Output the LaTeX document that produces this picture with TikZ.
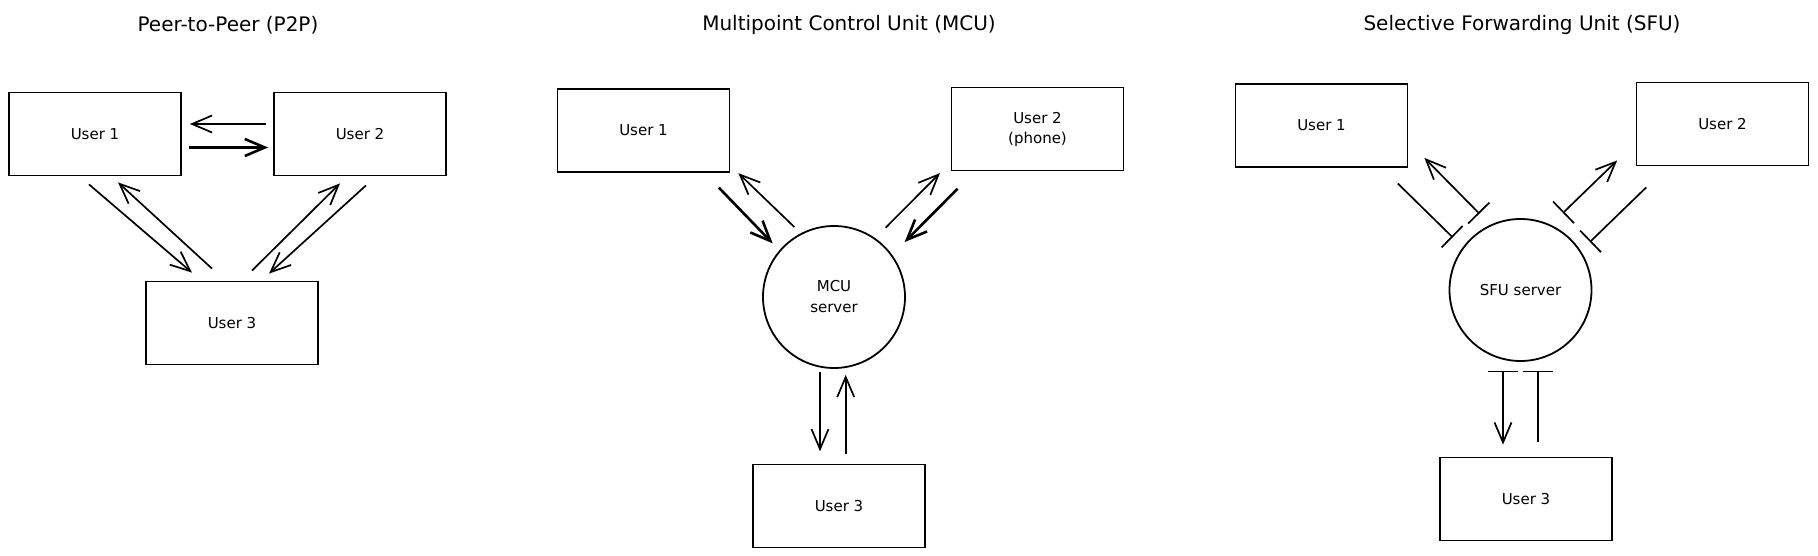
\documentclass[tikz,border=0pt]{standalone}
\usepackage{fontspec}
\setsansfont{DejaVu Sans}
\usetikzlibrary{calc, arrows.meta}

\begin{document}
\begin{tikzpicture}[x=1pt,y=-1pt,
        box/.style={draw,line width=1.8pt,minimum width=172pt,minimum height=83pt,inner sep=0pt,align=center,font=\sffamily\fontsize{15}{20}\selectfont},
        srv/.style={draw,circle,line width=1.8pt,minimum size=142pt,inner sep=0pt,align=center,font=\sffamily\fontsize{15}{21}\selectfont},
        ttl/.style={font=\sffamily\fontsize{20}{24}\selectfont},
        arr/.style={line width=1.7pt,-{Straight Barb[length=20pt,width=17pt]}},
        fwd/.style={line width=1.7pt,{Bar[width=30pt]}-{Straight Barb[length=20pt,width=17pt]}},
        blk/.style={line width=1.7pt,-{Bar[width=30pt]}}]
    \useasboundingbox (0,0) rectangle (1818,556);
    \foreach \n/\x/\t in {t1/228/{Peer-to-Peer (P2P)},t2/849/{Multipoint Control Unit (MCU)},t3/1522/{Selective Forwarding Unit (SFU)}}{
        \node[ttl] (\n) at (\x,25) {\t};
    }
    \node[box] (p1) at (95,134) {User 1};
    \node[box] (p2) at (360,134) {User 2};
    \node[box] (p3) at (232,323) {User 3};
    \draw[arr] ($(p2.west)+(-7,-10)$) -- ($(p1.east)+(8,-10)$);
    \draw[arr,line width=2.6pt] ($(p1.east)+(7,13.5)$) -- ($(p2.west)+(-5,13.5)$);
    \draw[arr] ($(p1.south)+(-6,8)$) -- ($(p3.north)+(-40,-8)$);
    \draw[arr] ($(p3.north)+(-20,-12)$) -- ($(p1.south)+(23,6)$);
    \draw[arr] ($(p3.north)+(20,-10)$) -- ($(p2.south)+(-20,7)$);
    \draw[arr] ($(p2.south)+(6,9)$) -- ($(p3.north)+(37,-7)$);
    \node[box] (m1) at (643.5,130.5) {User 1};
    \node[box] (m2) at (1037.5,129) {User 2\\(phone)};
    \node[srv] (mc) at (834,297) {MCU\\server};
    \node[box] (m3) at (839,506) {User 3};
    \draw[arr,line width=2.6pt] ($(m1.south east)+(-11.6,14.7)$) -- ($(mc.north west)+(-10.5,-2.8)$);
    \draw[arr] ($(mc.north west)+(11.2,-19.1)$) -- ($(m1.south east)+(8,0.3)$);
    \draw[arr] ($(mc.north east)+(0.8,-18.5)$) -- ($(m2.south west)+(-10.6,1.7)$);
    \draw[arr,line width=2.6pt] ($(m2.south west)+(7,17.3)$) -- ($(mc.north east)+(19.8,-4.1)$);
    \draw[arr] ($(mc.south)+(-14,3)$) -- ($(m3.north)+(-19,-12.3)$);
    \draw[arr] ($(m3.north)+(6.7,-10)$) -- ($(mc.south)+(11.7,6)$);
    \node[box] (s1) at (1321.5,125.5) {User 1};
    \node[box] (s2) at (1722.5,124) {User 2};
    \node[srv] (sc) at (1520.5,290) {SFU server};
    \node[box] (s3) at (1526,499) {User 3};
    \draw[blk] ($(s1.south east)+(-10.6,15.6)$) -- ($(sc.north west)+(-17,-1.8)$);
    \draw[fwd] ($(sc.north west)+(9.7,-25.5)$) -- ($(s1.south east)+(16,-10)$);
    \draw[fwd] ($(sc.north east)+(-8.4,-26.2)$) -- ($(s2.south west)+(-18.4,-6)$);
    \draw[blk] ($(s2.south west)+(10.6,21)$) -- ($(sc.north east)+(18.6,2.8)$);
    \draw[fwd] ($(sc.south)+(-17.5,8.6)$) -- ($(s3.north)+(-23,-12)$);
    \draw[blk] ($(s3.north)+(12,-15)$) -- ($(sc.south)+(17.5,8.6)$);
\end{tikzpicture}
\end{document}
